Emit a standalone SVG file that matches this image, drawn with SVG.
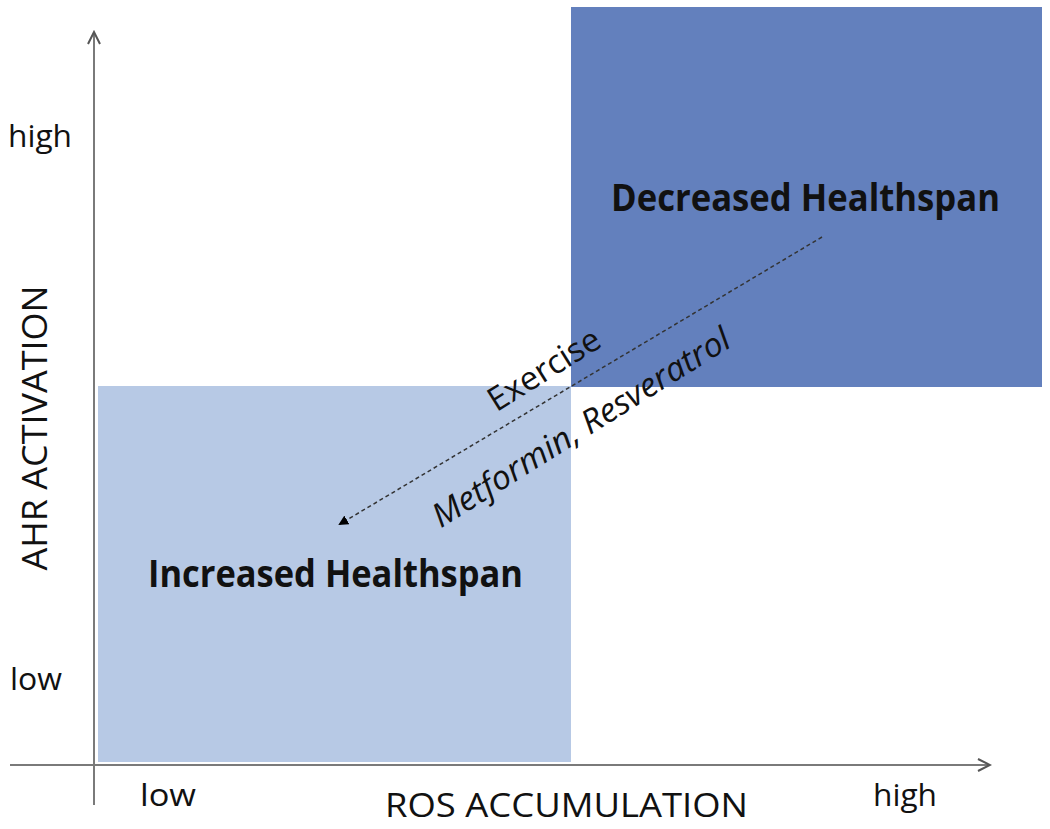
<svg xmlns="http://www.w3.org/2000/svg" width="1050" height="829" viewBox="0 0 1050 829">
<defs>
<style>
.t{font-family:"Open Sans","Noto Sans","Liberation Sans",sans-serif;fill:#111;}
.ax{stroke:#7a7a7a;stroke-width:2;fill:none;}
.b{font-weight:bold;font-size:37px;}
.l{font-size:31px;}
</style>
<marker id="tri" markerWidth="10" markerHeight="10" refX="8" refY="5" orient="auto" markerUnits="userSpaceOnUse">
<path d="M0,0 L10,5 L0,10 z" fill="#000"/>
</marker>
<marker id="open" markerWidth="16" markerHeight="16" refX="14" refY="8" orient="auto" markerUnits="userSpaceOnUse">
<path d="M2,2 L14,8 L2,14" fill="none" stroke="#555" stroke-width="2"/>
</marker>
</defs>
<rect width="1050" height="829" fill="#fff"/>
<g id="increased">
<rect x="98" y="386" width="473" height="376" fill="#b7c9e5"/>
<text class="t b" x="148" y="587" textLength="375" lengthAdjust="spacingAndGlyphs">Increased Healthspan</text>
</g>
<g id="decreased">
<rect x="571" y="7" width="471" height="380" fill="#6380bd"/>
<text class="t b" x="611" y="211" textLength="389" lengthAdjust="spacingAndGlyphs">Decreased Healthspan</text>
</g>
<g id="axes">
<line class="ax" x1="94" y1="805" x2="94" y2="32" marker-end="url(#open)"/>
<line class="ax" x1="10" y1="765" x2="990" y2="765" marker-end="url(#open)"/>
</g>
<g id="labels">
<text class="t l" x="8" y="147" textLength="64" lengthAdjust="spacingAndGlyphs">high</text>
<text class="t l" x="10" y="690" textLength="52" lengthAdjust="spacingAndGlyphs">low</text>
<text class="t l" x="140" y="806" textLength="56" lengthAdjust="spacingAndGlyphs">low</text>
<text class="t l" x="873" y="806" textLength="64" lengthAdjust="spacingAndGlyphs">high</text>
<text class="t" font-size="33" x="385" y="817" textLength="363" lengthAdjust="spacingAndGlyphs">ROS ACCUMULATION</text>
<text class="t" font-size="34" transform="translate(47,428) rotate(-90)" text-anchor="middle" textLength="285" lengthAdjust="spacingAndGlyphs">AHR ACTIVATION</text>
</g>
<g id="connectors">
<line x1="822" y1="237" x2="340" y2="524" stroke="#333" stroke-width="1.5" stroke-dasharray="4,3" marker-end="url(#tri)"/>
<text class="t" font-size="33" transform="translate(550,379) rotate(-32)" text-anchor="middle" textLength="126" lengthAdjust="spacingAndGlyphs">Exercise</text>
<text class="t" font-size="33" font-style="italic" transform="translate(587,437) rotate(-32)" text-anchor="middle" textLength="345" lengthAdjust="spacingAndGlyphs">Metformin, Resveratrol</text>
</g>
</svg>
